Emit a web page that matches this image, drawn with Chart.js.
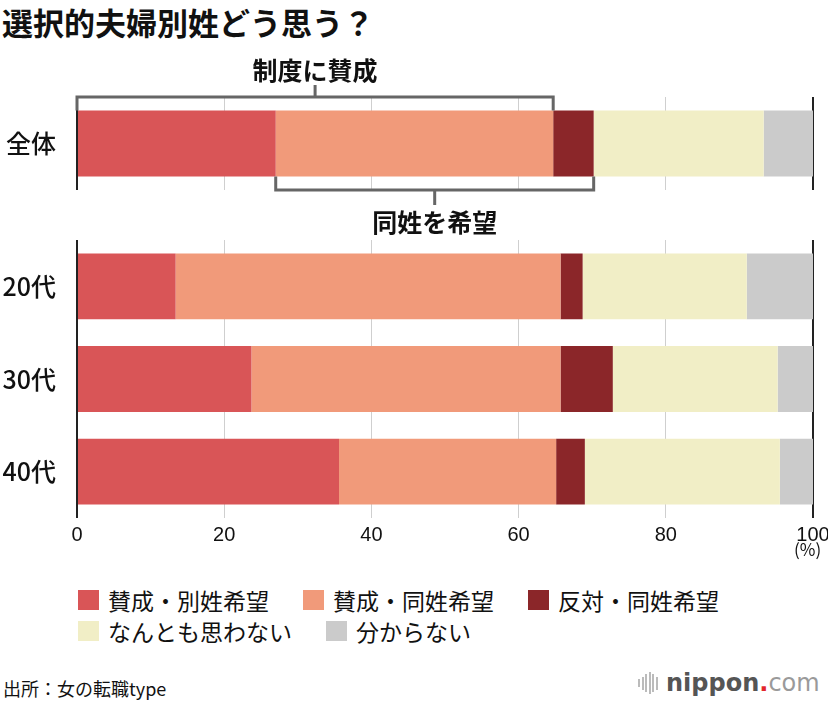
<!DOCTYPE html>
<html>
<head>
<meta charset="utf-8">
<script src="https://cdn.jsdelivr.net/npm/chart.js@4"></script>
<style>
  body { margin: 0; background: #fff; font-family: 'Noto Sans CJK JP', sans-serif; color: #111; }
  #page { position: relative; width: 828px; height: 702px; overflow: hidden; }
  canvas { position: absolute; left: 0; }
  .title { position: absolute; left: 2px; top: 5px; font-size: 31px; font-weight: 700; line-height: 34px; }
  .unit { position: absolute; left: 794px; top: 538px; font-size: 17px; line-height: 22px; }
  #legend { position: absolute; left: 78px; top: 584px; width: 740px; }
  .item { display: inline-flex; align-items: center; margin-right: 34px; height: 31px; font-size: 23px; }
  .box { width: 21px; height: 20px; margin-right: 9px; }
  .source { position: absolute; left: 3px; top: 676px; font-size: 18px; line-height: 24px; }
  .logo { position: absolute; left: 638px; top: 668px; height: 30px; display: flex; align-items: center; }
  .bars { display: flex; align-items: center; margin-right: 7px; }
  .bars span { display: block; width: 2px; margin-right: 1.5px; background: #bbb; }
  .logo .txt { font-family: 'DejaVu Sans', sans-serif; font-size: 24px; line-height: 30px; }
</style>
</head>
<body>
<div id="page">
  <div class="title">選択的夫婦別姓どう思う？</div>
  <canvas id="topChart" width="828" height="190" style="top:50px"></canvas>
  <canvas id="ageChart" width="828" height="335" style="top:235px"></canvas>
  <div class="unit">(%)</div>
  <div id="legend"></div>
  <div class="source">出所：女の転職type</div>
  <div class="logo">
    <div class="bars"><span style="height:8px"></span><span style="height:13px"></span><span style="height:18px"></span><span style="height:22px"></span><span style="height:18px"></span><span style="height:13px"></span></div>
    <span class="txt"><b style="color:#555">nippon</b><span style="color:#e2262b;font-weight:700">.</span><span style="color:#9a9a9a">com</span></span>
  </div>
</div>
<script>
// 全体, 20代, 30代, 40代
var categories = ["全体", "20代", "30代", "40代"];
var seriesLabels = ["賛成・別姓希望", "賛成・同姓希望", "反対・同姓希望", "なんとも思わない", "分からない"];
var seriesColors = ["#d95557", "#f19a7a", "#8b2629", "#f1eec6", "#cbcbcb"];

var favorSeparate = [27.0, 13.4, 23.7, 35.6];
var favorSame     = [37.7, 52.3, 42.0, 29.5];
var opposeSame    = [5.5, 3.0, 7.1, 3.9];
var neutral       = [23.1, 22.3, 22.4, 26.5];
var unknown       = [6.7, 9.0, 4.8, 4.5];

var xTicks = [0, 20, 40, 60, 80, 100];

var allSeries = [favorSeparate, favorSame, opposeSame, neutral, unknown];

function makeDatasets(from, to) {
  return allSeries.map(function (s, i) {
    return {
      label: seriesLabels[i],
      data: s.slice(from, to),
      backgroundColor: seriesColors[i],
      borderWidth: 0,
      barPercentage: 0.71,
      categoryPercentage: 1.0
    };
  });
}

function gridColor(c) {
  var v = c.tick ? c.tick.value : null;
  return (v === 0 || v === 100) ? "#222" : "#cfcfcf";
}
function gridWidth(c) {
  var v = c.tick ? c.tick.value : null;
  return (v === 0 || v === 100) ? 2 : 1;
}

function makeOptions(showTicks, padTop, padBottom, xHeight) {
  return {
    indexAxis: "y",
    responsive: false,
    animation: false,
    devicePixelRatio: 1,
    layout: { padding: { top: padTop, bottom: padBottom, left: 0, right: 15 } },
    plugins: { legend: { display: false }, tooltip: { enabled: false } },
    scales: {
      x: {
        stacked: true,
        min: 0,
        max: 100,
        afterBuildTicks: function (s) { s.ticks = xTicks.map(function (v) { return { value: v }; }); },
        afterFit: function (s) { s.height = xHeight; s.paddingLeft = 0; s.paddingRight = 0; },
        grid: { color: gridColor, lineWidth: gridWidth, drawTicks: false },
        border: { display: false },
        ticks: {
          display: showTicks,
          padding: 5,
          color: "#111",
          font: { family: "'Liberation Sans', sans-serif", size: 20 }
        }
      },
      y: {
        stacked: true,
        afterFit: function (s) { s.width = 77; s.paddingTop = 0; s.paddingBottom = 0; },
        grid: { display: false },
        border: { display: false },
        ticks: {
          padding: 13,
          color: "#111",
          font: { family: "'Noto Sans CJK JP', sans-serif", size: 25, weight: 500 }
        }
      }
    }
  };
}

var bracketPlugin = {
  id: "brackets",
  afterDatasetsDraw: function (chart) {
    var ctx = chart.ctx, x = chart.scales.x, area = chart.chartArea;
    var bar = chart.getDatasetMeta(0).data[0];
    var barTop = bar.y - bar.height / 2, barBottom = bar.y + bar.height / 2;

    var l1 = x.getPixelForValue(0);
    var r1 = x.getPixelForValue(favorSeparate[0] + favorSame[0]);
    var l2 = x.getPixelForValue(favorSeparate[0]);
    var r2 = x.getPixelForValue(favorSeparate[0] + favorSame[0] + opposeSame[0]);
    var m1 = (l1 + r1) / 2, m2 = (l2 + r2) / 2;

    ctx.save();
    ctx.strokeStyle = "#666";
    ctx.lineWidth = 3;
    ctx.beginPath();
    ctx.moveTo(l1, barTop); ctx.lineTo(l1, area.top); ctx.lineTo(r1, area.top); ctx.lineTo(r1, barTop);
    ctx.moveTo(m1, area.top); ctx.lineTo(m1, area.top - 12);
    ctx.moveTo(l2, barBottom); ctx.lineTo(l2, area.bottom); ctx.lineTo(r2, area.bottom); ctx.lineTo(r2, barBottom);
    ctx.moveTo(m2, area.bottom); ctx.lineTo(m2, area.bottom + 15);
    ctx.stroke();

    ctx.fillStyle = "#111";
    ctx.font = "bold 25px 'Noto Sans CJK JP', sans-serif";
    ctx.textAlign = "center";
    ctx.textBaseline = "middle";
    ctx.fillText("制度に賛成", m1, area.top - 27);
    ctx.fillText("同姓を希望", m2, area.bottom + 32);
    ctx.restore();
  }
};

new Chart(document.getElementById("topChart"), {
  type: "bar",
  data: { labels: categories.slice(0, 1), datasets: makeDatasets(0, 1) },
  options: makeOptions(false, 47, 50, 0),
  plugins: [bracketPlugin]
});

new Chart(document.getElementById("ageChart"), {
  type: "bar",
  data: { labels: categories.slice(1), datasets: makeDatasets(1, 4) },
  options: makeOptions(true, 5, 0, 52)
});

var legend = document.getElementById("legend");
seriesLabels.forEach(function (label, i) {
  var item = document.createElement("span");
  item.className = "item";
  item.innerHTML = '<span class="box" style="background:' + seriesColors[i] + '"></span>' + label;
  legend.appendChild(item);
  if (i === 2) legend.appendChild(document.createElement("br"));
});
</script>
</body>
</html>
